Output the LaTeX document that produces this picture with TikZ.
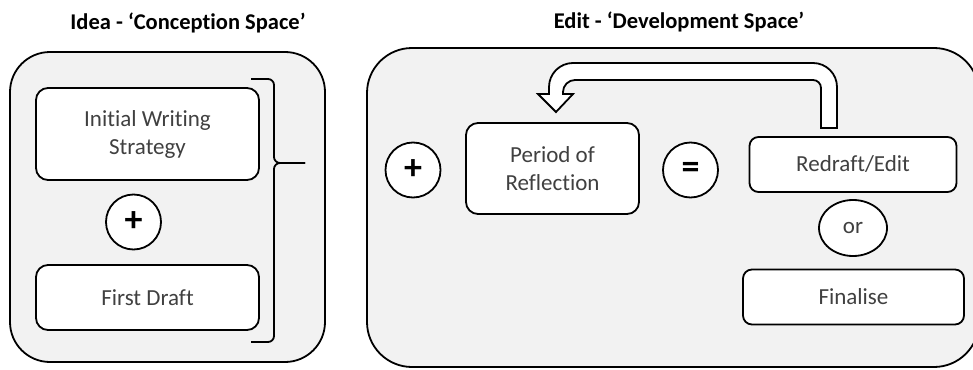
\documentclass[tikz,border=0pt]{standalone}
\usepackage{fontspec}
\setmainfont{Carlito}[Ligatures=NoCommon]
\usetikzlibrary{shapes.geometric}
\definecolor{panel}{HTML}{F2F2F2}
\definecolor{txt}{HTML}{404040}
\begin{document}
\begin{tikzpicture}[x=1pt,y=-1pt,
  panelbox/.style={draw=black, line width=1.8pt, fill=panel, inner sep=0pt},
  stepbox/.style={draw=black, line width=1.8pt, fill=white, rounded corners=12pt, inner sep=0pt, align=center, text=txt, font=\fontsize{23}{28}\selectfont},
  opcircle/.style={draw=black, circle, line width=1.8pt, fill=white, minimum size=55pt, inner sep=0pt, text=black, font=\bfseries\fontsize{36}{36}\selectfont},
  opellipse/.style={draw=black, ellipse, line width=1.8pt, fill=white, minimum width=68pt, minimum height=56pt, inner sep=0pt, text=txt, font=\fontsize{23}{28}\selectfont},
  titletext/.style={font=\bfseries\fontsize{22.5}{27}\selectfont, text=black, inner sep=0pt},
  bracketline/.style={draw=black, line width=1.8pt, rounded corners=6pt},
  blockarrow/.style={draw=black, line width=1.8pt, fill=white, line join=miter}
]
\useasboundingbox (0,0) rectangle (973,369);
\begin{scope}
\clip (0,0) rectangle (973,369);
\node[panelbox, rounded corners=40pt, minimum width=315pt, minimum height=310pt] (ideapanel) at (167.5,207) {};
\node[panelbox, rounded corners=45pt, minimum width=612pt, minimum height=319pt] (editpanel) at (673,207.5) {};
\end{scope}

\node[titletext] (ideatitle) at (188,23) {Idea - ‘Conception Space’};
\node[titletext] (edittitle) at (679,22) {Edit - ‘Development Space’};

% left panel
\node[stepbox, minimum width=223pt, minimum height=92pt] (iws) at (147.5,134) {Initial Writing\\Strategy};
\node[opcircle] (plusA) at (133.5,222) {+};
\node[stepbox, minimum width=223pt, minimum height=65pt] (draft) at (147.5,297.5) {First Draft};

% bracket
\coordinate (brtop) at (251,79);
\coordinate (brbot) at (251,342);
\coordinate (brtip) at (305,163);
\draw[bracketline] (brtop) -- (274,79) -- (274,163) -- (brtip);
\draw[bracketline] (brtip) -- (274,163) -- (274,342) -- (brbot);

% right panel
\node[opcircle] (plusB) at (413,170) {+};
\node[stepbox, minimum width=173pt, minimum height=91pt] (reflect) at (552.5,168.5) {Period of\\Reflection};
\node[opcircle] (equals) at (690.5,170) {=};
\node[stepbox, rounded corners=9pt, minimum width=207pt, minimum height=55pt] (redraft) at (853,164.5) {Redraft/Edit};
\node[opellipse] (ornode) at (853,228) {or};
\node[stepbox, rounded corners=9pt, minimum width=221pt, minimum height=55pt] (final) at (853.5,297) {Finalise};

% U-turn block arrow from Redraft/Edit back to Period of Reflection
\draw[blockarrow] (821,128) -- (821,88) arc[start angle=0, end angle=-90, radius=8]
  -- (575,80) arc[start angle=-90, end angle=-180, radius=12]
  -- (563,94) -- (573,94) -- (556,112) -- (538,94) -- (549,94)
  -- (549,87) arc[start angle=180, end angle=270, radius=24]
  -- (813,63) arc[start angle=-90, end angle=0, radius=24]
  -- (837,128) -- cycle;
\end{tikzpicture}
\end{document}
